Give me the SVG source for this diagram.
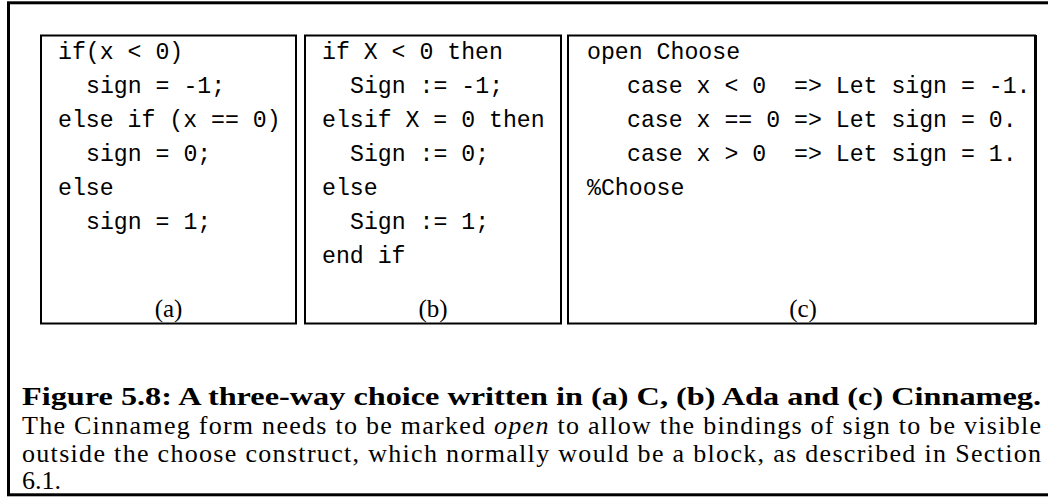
<svg xmlns="http://www.w3.org/2000/svg" width="1048" height="497" viewBox="0 0 1048 497">
<style>
.frame{fill:none;stroke:#000;stroke-width:3}
.box{fill:none;stroke:#000;stroke-width:2}
.code{font-family:"Liberation Mono","Courier New",monospace;font-size:23.2px;fill:#000;white-space:pre}
.lbl{font-family:"Liberation Serif","Times New Roman",serif;font-size:25px;fill:#000;text-anchor:middle}
.cap{font-family:"Liberation Serif","Times New Roman",serif;font-size:26px;fill:#000}
.capb{font-weight:bold}
</style>
<rect x="0" y="0" width="1048" height="497" fill="#fff"/>
<rect class="frame" x="8.5" y="2.8" width="1050" height="492"/>
<g id="boxA">
<rect class="box" x="41" y="35.5" width="255" height="288"/>
<text class="code" xml:space="preserve"><tspan x="58" y="59">if(x &lt; 0)</tspan><tspan x="86" y="93">sign = -1;</tspan><tspan x="58" y="127">else if (x == 0)</tspan><tspan x="86" y="161">sign = 0;</tspan><tspan x="58" y="195">else</tspan><tspan x="86" y="229">sign = 1;</tspan></text>
<text class="lbl" x="168.5" y="317">(a)</text>
</g>
<g id="boxB">
<rect class="box" x="305" y="35.5" width="256" height="288"/>
<text class="code" xml:space="preserve"><tspan x="322" y="59">if X &lt; 0 then</tspan><tspan x="350" y="93">Sign := -1;</tspan><tspan x="322" y="127">elsif X = 0 then</tspan><tspan x="350" y="161">Sign := 0;</tspan><tspan x="322" y="195">else</tspan><tspan x="350" y="229">Sign := 1;</tspan><tspan x="322" y="263">end if</tspan></text>
<text class="lbl" x="433" y="317">(b)</text>
</g>
<g id="boxC">
<rect class="box" x="568" y="35.5" width="467" height="288"/>
<line x1="1035.5" y1="35" x2="1035.5" y2="324.5" stroke="#000" stroke-width="3"/>
<text class="code" xml:space="preserve"><tspan x="587" y="59">open Choose</tspan><tspan x="627" y="93">case x &lt; 0  =&gt; Let sign = -1.</tspan><tspan x="627" y="127">case x == 0 =&gt; Let sign = 0.</tspan><tspan x="627" y="161">case x &gt; 0  =&gt; Let sign = 1.</tspan><tspan x="587" y="195">%Choose</tspan></text>
<text class="lbl" x="803" y="317">(c)</text>
</g>
<g id="caption">
<text class="cap capb" x="22" y="405" textLength="1019" lengthAdjust="spacingAndGlyphs">Figure 5.8: A three-way choice written in (a) C, (b) Ada and (c) Cinnameg.</text>
<text class="cap" x="22" y="433.5" textLength="1019" lengthAdjust="spacing">The Cinnameg form needs to be marked <tspan font-style="italic">open</tspan> to allow the bindings of sign to be visible</text>
<text class="cap" x="22" y="461.5" textLength="1019" lengthAdjust="spacing">outside the choose construct, which normally would be a block, as described in Section</text>
<text class="cap" x="22" y="489">6.1.</text>
</g>
</svg>
